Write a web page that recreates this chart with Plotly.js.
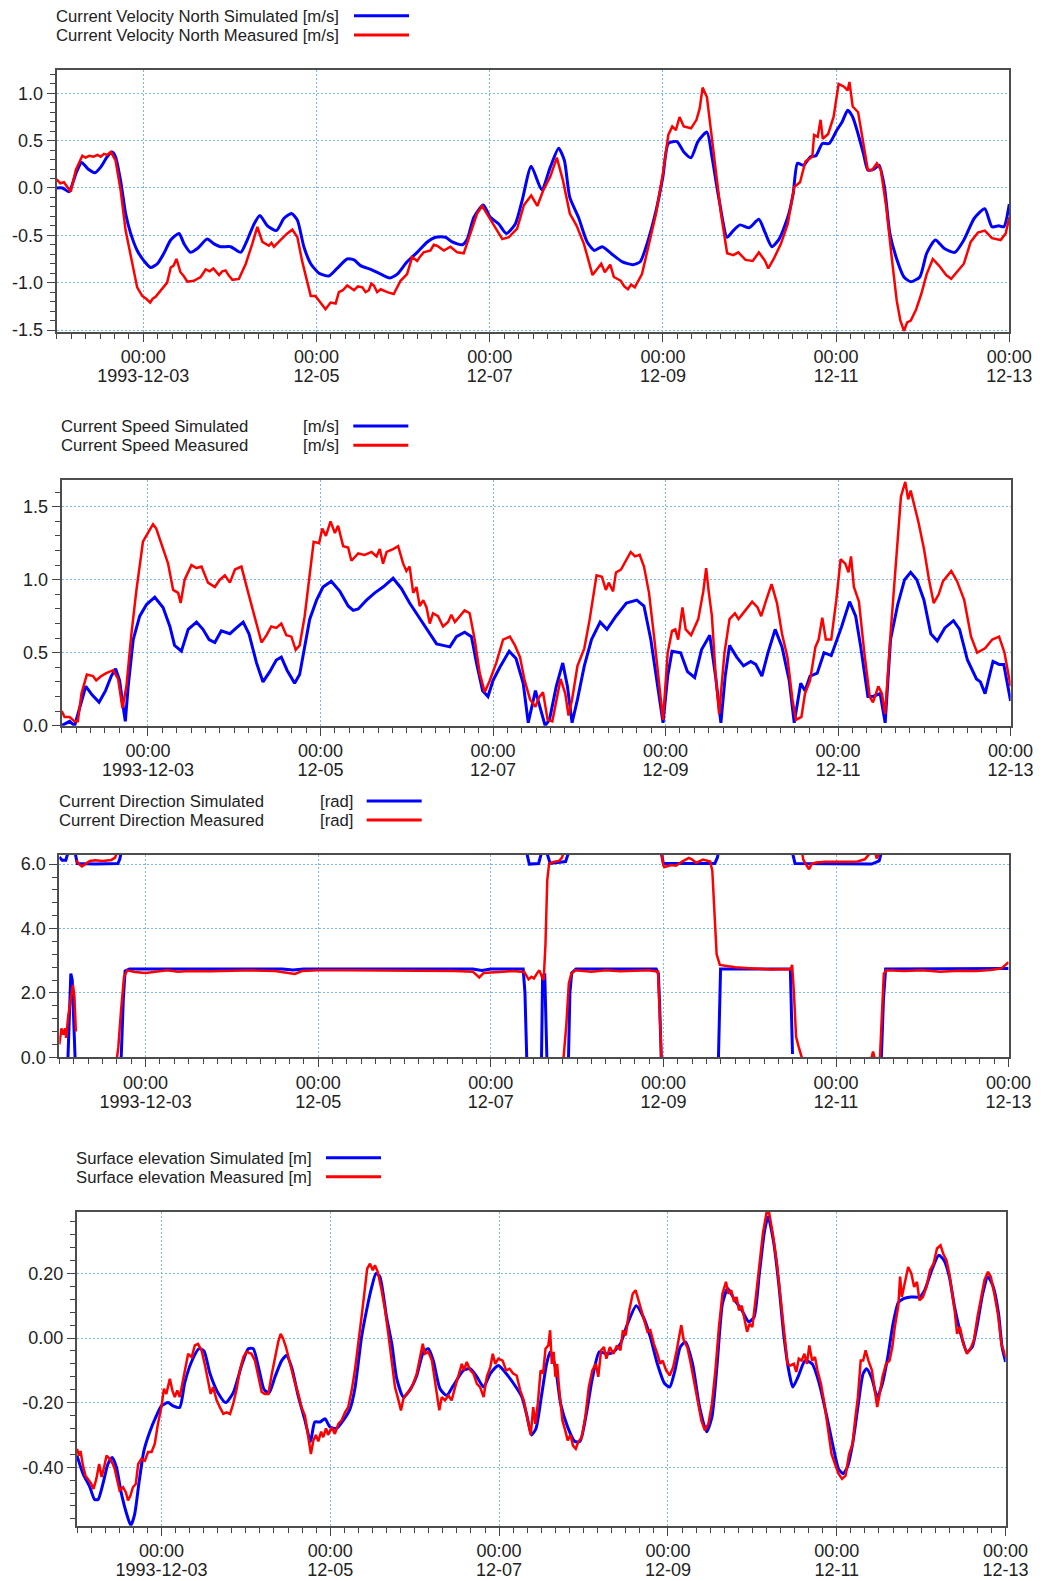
<!DOCTYPE html>
<html>
<head>
<meta charset="utf-8">
<script src="https://cdn.plot.ly/plotly-3.0.1.min.js"></script>
<style>html,body{margin:0;padding:0;background:#fff;}#chart{width:1051px;height:1581px;}</style>
</head>
<body>
<div id="chart"></div>
<script>
// ---- DATA: [hours since 1993-12-02 00:00, value]; null = line break ----
const velSim = [[0,0],[1.6,0],[3.4,-0.04],[5.3,0.15],[6.9,0.27],[8.7,0.2],[10.6,0.16],[12.2,0.22],[14,0.33],[15.4,0.38],[16.3,0.33],[17.7,0.08],[19.1,-0.27],[20.5,-0.48],[22.3,-0.66],[24.2,-0.77],[26,-0.84],[27.9,-0.8],[29.7,-0.69],[31.6,-0.55],[33.9,-0.48],[35.3,-0.59],[37.1,-0.68],[39,-0.64],[41.7,-0.54],[43.6,-0.59],[45.4,-0.62],[48.2,-0.62],[51,-0.68],[52.8,-0.55],[54.7,-0.38],[56.3,-0.29],[58.4,-0.4],[60.9,-0.45],[63,-0.32],[65.1,-0.27],[66.7,-0.34],[68.5,-0.62],[70.4,-0.8],[72.7,-0.9],[75.4,-0.93],[77.7,-0.85],[80.5,-0.75],[82.4,-0.76],[84.2,-0.82],[87,-0.86],[89.8,-0.91],[92.3,-0.95],[94.4,-0.91],[97.1,-0.78],[99.9,-0.68],[102.7,-0.57],[105,-0.52],[107.8,-0.52],[109.6,-0.57],[112.4,-0.6],[113.8,-0.54],[115.6,-0.31],[118.2,-0.18],[120.2,-0.31],[122.5,-0.38],[124.6,-0.48],[127.1,-0.38],[129,-0.13],[131.5,0.23],[134.4,-0.02],[136.8,0.22],[139.1,0.42],[140.7,0.29],[142.2,-0.1],[144.6,-0.31],[147,-0.57],[149,-0.66],[151.2,-0.62],[153.9,-0.7],[156.8,-0.78],[159.7,-0.81],[161.7,-0.78],[163.6,-0.59],[166.1,-0.24],[168,0.12],[169.5,0.47],[171.9,0.49],[173.8,0.38],[175.8,0.32],[177.7,0.49],[180.2,0.59],[181.6,0.33],[183.6,-0.13],[185.8,-0.52],[187.5,-0.45],[189.4,-0.39],[191.9,-0.42],[194.6,-0.33],[196.3,-0.47],[198.2,-0.62],[200.2,-0.54],[202.6,-0.31],[204.1,-0.06],[205.3,0.26],[207,0.24],[208.9,0.33],[210.4,0.34],[212.2,0.47],[214.1,0.47],[216.2,0.61],[217.7,0.7],[219.2,0.82],[220.6,0.75],[222.1,0.57],[223.6,0.36],[224.8,0.19],[226.5,0.2],[227.9,0.24],[229.4,0.01],[230.9,-0.48],[232.8,-0.75],[234.8,-0.94],[236.7,-0.99],[239.2,-0.94],[241.1,-0.69],[243.5,-0.55],[246,-0.64],[248.9,-0.68],[251.4,-0.55],[254.3,-0.32],[257.2,-0.22],[259.2,-0.41],[261.1,-0.4],[262.5,-0.41],[264,-0.17]];

const velMeas = [[0,0.09],[1,0.05],[2,0.06],[3,0.01],[3.9,-0.04],[5.3,0.19],[7.1,0.34],[8,0.32],[9,0.34],[10.2,0.33],[11.3,0.35],[12.2,0.33],[13.1,0.36],[14,0.35],[15,0.38],[16.3,0.29],[17.7,-0.02],[19.1,-0.45],[20.5,-0.73],[22.3,-1.05],[23.7,-1.14],[24.8,-1.17],[25.9,-1.21],[26.6,-1.17],[27.4,-1.15],[28.5,-1.1],[29.7,-1.05],[30.6,-1.0],[31.6,-0.84],[32.4,-0.82],[33.2,-0.75],[34.3,-0.89],[35.2,-0.93],[36.2,-0.99],[38,-0.98],[39.9,-0.94],[41.3,-0.86],[42.4,-0.88],[43.4,-0.85],[45,-0.92],[45.9,-0.88],[46.8,-0.87],[47.6,-0.92],[48.7,-0.97],[50.5,-0.96],[52.4,-0.8],[54.2,-0.59],[55.6,-0.41],[57,-0.57],[58.8,-0.61],[59.5,-0.58],[60.2,-0.62],[62,-0.55],[63.9,-0.48],[65.3,-0.44],[66.7,-0.52],[68,-0.77],[69.4,-0.98],[70.4,-1.14],[71.7,-1.14],[73.1,-1.21],[74.5,-1.28],[75.9,-1.21],[77.3,-1.22],[78.2,-1.1],[79.3,-1.08],[80.5,-1.03],[82.4,-1.08],[83.5,-1.04],[84.7,-1.05],[85.6,-1.1],[86.5,-1.08],[87.2,-1.01],[87.9,-1.03],[88.8,-1.1],[89.8,-1.07],[91.6,-1.1],[93.4,-1.12],[95.3,-0.98],[97.1,-0.91],[98.5,-0.73],[99.9,-0.77],[100.8,-0.72],[101.7,-0.68],[103.6,-0.66],[104.5,-0.6],[105.4,-0.61],[107.3,-0.66],[109.1,-0.62],[111,-0.68],[112.8,-0.69],[114.7,-0.48],[116.5,-0.27],[117.9,-0.19],[119.8,-0.31],[121.6,-0.41],[123.5,-0.54],[125.3,-0.52],[127.6,-0.43],[129.5,-0.18],[131.5,-0.08],[133.2,-0.19],[134.9,-0.02],[136.8,0.12],[138.6,0.32],[140.3,0.08],[142.2,-0.27],[144.1,-0.4],[146.1,-0.59],[148.5,-0.92],[150.9,-0.8],[151.9,-0.89],[153.4,-0.81],[154.4,-0.94],[156.3,-0.98],[157.3,-1.04],[158.3,-1.07],[159.2,-1.02],[160.2,-1.05],[162.2,-0.91],[164.1,-0.59],[166.1,-0.27],[168,0.15],[169.5,0.56],[170.6,0.65],[171.6,0.61],[172.6,0.75],[173.8,0.65],[175.8,0.63],[177.3,0.72],[178.2,0.84],[179,1.06],[180.2,0.96],[181.2,0.65],[182.6,0.22],[184.1,-0.27],[185.8,-0.69],[187.5,-0.71],[188.9,-0.68],[190.9,-0.76],[192.9,-0.77],[194.6,-0.68],[196.3,-0.77],[197.2,-0.85],[198.7,-0.75],[200.7,-0.59],[202.6,-0.38],[204.4,0.01],[206,0.06],[207.5,0.28],[209.4,0.33],[209.9,0.56],[210.9,0.54],[211.7,0.72],[212.3,0.52],[213.8,0.57],[215.3,0.75],[216.7,1.1],[218.2,1.07],[219.2,1.03],[219.7,1.12],[220.6,0.86],[222.1,0.8],[223.6,0.47],[224.8,0.19],[226,0.19],[227.3,0.26],[228.4,0.19],[229.9,-0.2],[231.4,-0.73],[232.8,-1.19],[233.8,-1.4],[234.8,-1.51],[235.7,-1.42],[236.7,-1.4],[238.2,-1.28],[239.6,-1.12],[241.1,-0.91],[242.8,-0.75],[244.5,-0.82],[246.5,-0.92],[247.9,-0.96],[249.4,-0.89],[251.4,-0.8],[253.3,-0.57],[255.3,-0.47],[257.2,-0.45],[259.2,-0.53],[261.6,-0.55],[263,-0.48],[264,-0.31]];

const speedSim = [[0,0],[1.3,0.02],[2.2,0.03],[3.6,0],[5,0.13],[6.7,0.27],[8.5,0.21],[10.4,0.16],[12.2,0.24],[13.8,0.34],[15,0.39],[16.1,0.31],[17.1,0.13],[17.7,0.03],[18.5,0.27],[19.9,0.59],[21.7,0.75],[23.6,0.83],[25.9,0.88],[28.2,0.81],[30.1,0.68],[31.4,0.55],[33.3,0.51],[35.2,0.66],[37.5,0.71],[39.3,0.66],[41,0.59],[42.6,0.57],[44.4,0.65],[46.8,0.63],[48.6,0.67],[50.5,0.71],[52.1,0.63],[54.2,0.43],[56,0.3],[57.9,0.37],[59.7,0.45],[61.1,0.47],[62.7,0.38],[64.8,0.29],[66.2,0.35],[67.6,0.54],[69,0.73],[70.9,0.86],[72.7,0.95],[75,0.99],[77.4,0.92],[79.7,0.82],[81.1,0.79],[82.5,0.8],[84.8,0.86],[87.1,0.91],[89.4,0.95],[92.2,1.01],[94.5,0.94],[96.8,0.84],[99.2,0.75],[101.5,0.66],[104.3,0.56],[106.1,0.55],[108,0.54],[109.8,0.61],[112.1,0.64],[114,0.61],[115.4,0.43],[117.1,0.24],[118.6,0.2],[120,0.31],[121.9,0.4],[124.5,0.51],[126.4,0.46],[128.4,0.29],[129.8,0.02],[131.8,0.24],[133.2,0.11],[134.5,0],[135.7,0.04],[137.6,0.27],[139.4,0.43],[140.7,0.27],[142,0.02],[143.5,0.18],[145.4,0.41],[147.4,0.59],[149.8,0.71],[151.7,0.66],[154.2,0.75],[157.1,0.84],[160,0.86],[162,0.82],[163.9,0.59],[165.9,0.27],[167.3,0.02],[168.6,0.34],[169.8,0.51],[172.2,0.5],[174.1,0.37],[176.1,0.33],[178,0.52],[180.3,0.62],[181.9,0.34],[183.4,0.02],[184.6,0.34],[185.8,0.55],[187.8,0.47],[189.7,0.41],[191.7,0.44],[193.1,0.42],[194.8,0.34],[196.5,0.5],[198.5,0.66],[200.4,0.54],[202.4,0.31],[203.8,0.02],[205.6,0.29],[206.8,0.24],[208.2,0.34],[210.2,0.36],[212.1,0.5],[214.1,0.48],[217,0.68],[219.2,0.85],[220.9,0.75],[222.3,0.54],[224.3,0.2],[225.7,0.2],[227.7,0.22],[229.1,0.02],[230.6,0.59],[232.6,0.83],[234.5,1],[236.2,1.05],[237.9,1],[239.9,0.86],[241.8,0.63],[243.6,0.58],[245.7,0.67],[248.1,0.72],[249.8,0.66],[252,0.45],[254.5,0.32],[255.6,0.3],[256.9,0.22],[259.1,0.44],[260.8,0.42],[262.1,0.42],[264,0.17]];

const speedMeas = [[0,0.1],[0.8,0.06],[2.2,0.06],[3.6,0.03],[4.5,0.03],[5.5,0.22],[7,0.35],[8.7,0.34],[9.6,0.31],[11,0.34],[12.4,0.36],[14.3,0.38],[15.7,0.32],[16.9,0.12],[18,0.27],[19.4,0.63],[20.8,0.93],[22.6,1.26],[24,1.32],[25.4,1.38],[26.3,1.35],[28.2,1.21],[29.6,1.11],[31,0.93],[32.4,0.91],[33.1,0.84],[34.2,1],[36.1,1.1],[37.5,1.08],[38.9,1.09],[40.7,0.98],[42.6,0.95],[44,1],[45.4,1.03],[46.8,0.98],[48.2,1.07],[50,1.09],[51.9,0.91],[53.7,0.75],[55.6,0.57],[57,0.62],[58.3,0.68],[59.7,0.67],[61.1,0.7],[62.5,0.62],[63.9,0.61],[65.1,0.52],[66.2,0.55],[67.6,0.75],[69,1.02],[70.1,1.26],[71.6,1.25],[72.5,1.35],[73.5,1.3],[74.8,1.4],[76,1.32],[76.9,1.37],[78.3,1.23],[79.7,1.22],[80.6,1.13],[82.5,1.18],[84.3,1.17],[86.2,1.19],[87.6,1.16],[88.5,1.21],[89.4,1.11],[90.4,1.19],[92.2,1.21],[93.6,1.23],[95,1.11],[95.9,1.06],[96.8,1.09],[97.8,0.91],[98.7,0.95],[99.6,0.82],[100.6,0.86],[101.5,0.81],[102.4,0.7],[103.3,0.77],[104.7,0.75],[106.1,0.68],[107.5,0.71],[108.4,0.76],[109.4,0.71],[110.8,0.75],[112.1,0.79],[113.5,0.77],[114.9,0.59],[116.3,0.36],[117.7,0.23],[119.1,0.31],[120.9,0.43],[122.8,0.59],[124.7,0.61],[126.1,0.55],[127.5,0.47],[128.8,0.31],[130.3,0.18],[131.8,0.13],[132.7,0.19],[133.9,0.23],[135.2,0.04],[136.5,0.03],[137.6,0.18],[138.8,0.32],[140.1,0.22],[141,0.07],[142,0.18],[143.5,0.41],[145.4,0.53],[146.9,0.73],[148.8,1.03],[150.3,1.02],[151.4,0.93],[152.2,0.98],[153.4,0.92],[154.2,1.05],[155.6,1.07],[157.1,1.14],[158.3,1.19],[159.5,1.16],[160.8,1.17],[162,1.09],[163.4,0.91],[164.9,0.59],[166.3,0.27],[167.3,0.04],[168.6,0.5],[169.8,0.65],[170.7,0.66],[171.5,0.59],[172.7,0.81],[173.6,0.66],[175.1,0.62],[177.1,0.73],[178.5,0.92],[179.3,1.08],[180,0.92],[180.9,0.75],[181.9,0.36],[182.9,0.08],[184.4,0.5],[185.8,0.73],[187.3,0.77],[188.3,0.73],[190.2,0.79],[192.1,0.85],[193.6,0.81],[194.6,0.75],[196,0.86],[197.5,0.97],[199,0.84],[200.4,0.63],[201.9,0.47],[203.3,0.18],[204.3,0.04],[205.8,0.06],[206.8,0.22],[208.2,0.31],[209.7,0.54],[210.6,0.59],[211.6,0.74],[212.6,0.59],[214.1,0.59],[215.5,0.86],[216.7,1.14],[218,1.11],[218.9,1.05],[219.6,1.16],[220.4,0.95],[221.8,0.85],[223.3,0.5],[224.8,0.2],[225.7,0.16],[227.2,0.27],[228.2,0.22],[229.1,0.08],[230.6,0.63],[232.1,1.09],[233.5,1.57],[234.7,1.67],[235.5,1.55],[236.2,1.61],[237.4,1.5],[238.4,1.39],[239.9,1.21],[241.3,1],[242.6,0.84],[244,0.9],[245.2,0.99],[247.5,1.06],[249.1,0.99],[251.1,0.86],[253,0.61],[254.7,0.5],[256.9,0.53],[258.9,0.59],[260.8,0.61],[262.3,0.5],[264,0.27]];

const dirSim = [[0,6.22],[0.8,6.12],[1.8,6.12],[2.4,6.35],null,[2.4,-0.05],[2.8,1.5],[3.2,2.6],[3.6,2.4],[4.0,1.0],[4.4,-0.05],null,[4.4,6.35],[5.0,6.02],[10,6.0],[16.3,6.02],[16.8,6.15],[17.2,6.35],null,[17.2,-0.05],[17.8,1.8],[18.3,2.68],[19.5,2.74],[40,2.74],[62,2.74],[65,2.71],[68,2.74],[100,2.74],[115,2.74],[117.5,2.70],[120,2.74],[129.0,2.74],[129.5,2.0],[130.0,-0.05],null,[130.0,6.35],[130.7,6.0],[133.3,6.02],[134.1,6.35],null,[134.1,-0.05],[134.4,2.5],[135.0,2.6],[135.3,1.0],[135.6,-0.05],null,[135.6,6.35],[136.5,6.02],[140.8,6.08],[141.6,6.35],null,[141.6,-0.05],[142.0,2.0],[142.5,2.62],[143.7,2.74],[166.0,2.74],[166.6,2.6],[167.0,1.5],[167.4,-0.05],null,[167.4,6.35],[168,6.02],[182.3,6.02],[183.0,6.2],[183.3,6.35],null,[183.3,-0.05],[183.6,1.5],[183.9,2.74],[203.3,2.74],[203.9,0.1],null,[203.9,6.35],[204.6,6.02],[225.9,6.0],[227,6.05],[228,6.1],[228.6,6.35],null,[228.6,-0.05],[229.2,1.8],[229.8,2.74],[264,2.76]];

const dirMeas = [[0,0.40],[0.6,0.9],[1.1,0.7],[1.6,0.9],[1.9,0.6],[2.5,1.3],[3.3,1.9],[3.8,2.25],[4.2,1.9],[4.6,0.8],null,[4.6,6.12],[5.5,6.0],[6.3,5.93],[7.5,6.02],[8.5,6.1],[10,6.12],[12,6.1],[14.5,6.13],[15.5,6.2],[16.0,6.35],null,[16.0,-0.05],[16.4,0.3],[17.2,1.5],[18.0,2.5],[18.9,2.7],[21,2.65],[24,2.62],[27,2.66],[30,2.70],[33,2.66],[36,2.68],[42,2.67],[48,2.68],[54,2.70],[60,2.68],[63,2.64],[65.5,2.59],[67.5,2.68],[72,2.70],[80,2.70],[90,2.69],[100,2.70],[110,2.68],[115,2.66],[116.8,2.48],[118,2.62],[122,2.66],[126,2.68],[129.3,2.65],[130.0,2.5],[130.5,2.42],[131.3,2.5],[132.0,2.45],[132.8,2.6],[133.5,2.7],[134.2,2.5],[134.7,2.4],[135.2,3.5],[135.7,5.5],[136.2,6.0],[137,6.05],[138,6.08],[139,6.1],[139.8,6.2],[140.2,6.35],null,[140.2,-0.05],[141.0,1.0],[141.7,2.3],[142.4,2.6],[143.5,2.7],[148,2.66],[152,2.70],[156,2.67],[160,2.69],[164,2.70],[166.5,2.66],[167.0,1.5],[167.5,-0.05],null,[167.5,6.35],[168.0,5.95],[168.3,5.91],[170.2,5.97],[171.5,5.95],[173.2,6.08],[175.1,6.19],[176,6.14],[177.1,6.04],[179,6.14],[181,6.08],[181.6,5.8],[182.2,4.5],[182.8,3.2],[183.7,2.87],[188,2.80],[193,2.76],[198,2.73],[203.4,2.74],[203.8,2.87],[204.3,2.0],[204.9,0.64],[205.6,0.33],[206.6,-0.05],null,[206.6,6.35],[206.9,6.14],[207.6,6.0],[208.5,5.84],[209.2,6.0],[210.5,6.05],[213,6.07],[216,6.06],[219,6.07],[222,6.08],[224,6.15],[225,6.28],[225.8,6.35],null,[225.8,-0.05],[226.3,0.18],[226.8,-0.05],null,[226.9,6.35],[227.3,6.18],[227.7,6.26],[228.2,6.35],null,[228.2,-0.05],[228.8,1.5],[229.3,2.6],[230,2.7],[235,2.68],[240,2.70],[245,2.66],[250,2.69],[255,2.68],[259,2.71],[262,2.76],[264,2.95]];

const elevSim = [[0,-0.364],[1.7,-0.42],[3.6,-0.46],[5,-0.5],[6,-0.5],[7.4,-0.45],[8.8,-0.39],[10,-0.37],[11.2,-0.4],[12.6,-0.48],[14,-0.54],[15.3,-0.58],[16.4,-0.545],[17.6,-0.45],[19,-0.35],[20.7,-0.29],[22.4,-0.245],[24,-0.21],[25.9,-0.2],[27.3,-0.21],[29.2,-0.215],[30.6,-0.14],[32.5,-0.075],[34.7,-0.033],[36.1,-0.04],[37.8,-0.11],[40.1,-0.17],[42.3,-0.2],[44.4,-0.17],[46.8,-0.085],[48.7,-0.033],[50.1,-0.033],[51.8,-0.1],[53.2,-0.16],[54.6,-0.17],[56.3,-0.12],[58.2,-0.07],[59.6,-0.054],[61,-0.09],[62.9,-0.18],[64.8,-0.255],[66.4,-0.32],[67.6,-0.26],[69.1,-0.26],[70.5,-0.25],[71.9,-0.275],[73.8,-0.28],[75.7,-0.255],[77.6,-0.22],[79,-0.157],[80.9,0.003],[82.4,0.09],[83.8,0.158],[85,0.2],[86.1,0.19],[88,0.065],[89.5,-0.018],[90.9,-0.126],[92.8,-0.183],[94.7,-0.16],[96.6,-0.116],[98.5,-0.043],[99.9,-0.033],[101.3,-0.07],[103.2,-0.157],[105.1,-0.178],[107,-0.147],[109.9,-0.1],[111.8,-0.095],[113.7,-0.12],[115.6,-0.152],[117.5,-0.11],[119.8,-0.085],[122,-0.11],[124.5,-0.147],[126.5,-0.183],[128,-0.245],[129.2,-0.3],[130.5,-0.28],[132,-0.183],[133.5,-0.08],[134.5,-0.043],[136,-0.09],[137.5,-0.204],[139.5,-0.276],[141.5,-0.32],[143,-0.32],[144.8,-0.235],[146.5,-0.126],[148.5,-0.043],[150.5,-0.049],[152.5,-0.043],[154.5,-0.018],[156.5,0.044],[159,0.1],[161,0.065],[163,0.003],[165,-0.08],[167,-0.14],[168.5,-0.152],[170,-0.1],[171.5,-0.028],[173,-0.012],[175,-0.08],[177,-0.214],[179,-0.29],[180.5,-0.245],[182,-0.08],[183.5,0.106],[185,0.153],[187,0.117],[189,0.086],[191,0.05],[192.5,0.065],[194,0.2],[195.5,0.334],[196.5,0.375],[198,0.3],[199.5,0.168],[201,0.003],[202.5,-0.11],[203.5,-0.152],[205,-0.12],[207,-0.07],[209,-0.08],[211,-0.14],[213,-0.235],[215,-0.338],[216.5,-0.405],[217.8,-0.42],[219,-0.4],[220.5,-0.328],[222,-0.214],[223.5,-0.11],[224.5,-0.095],[226,-0.126],[227.5,-0.183],[229,-0.14],[230.5,-0.059],[232,0.044],[233.5,0.11],[235,0.122],[237,0.127],[239.5,0.127],[241,0.148],[243,0.21],[245,0.256],[246.5,0.24],[248,0.19],[249.5,0.096],[251.5,0.003],[253,-0.043],[254.5,-0.028],[256,0.044],[257.5,0.137],[259,0.19],[260.5,0.158],[262,0.075],[263,-0.028],[264,-0.074]];

const elevMeas = [[0,-0.343],[0.6,-0.364],[1,-0.35],[1.7,-0.395],[2.4,-0.426],[3.1,-0.436],[4,-0.45],[4.7,-0.467],[5.5,-0.436],[6.3,-0.39],[7,-0.43],[7.7,-0.4],[8.4,-0.364],[9.3,-0.374],[10.2,-0.39],[10.7,-0.405],[11.4,-0.44],[12.1,-0.472],[13.1,-0.462],[13.9,-0.478],[14.5,-0.503],[15.2,-0.488],[15.9,-0.462],[16.7,-0.452],[17.4,-0.39],[18.3,-0.374],[19.3,-0.38],[20.2,-0.353],[21.2,-0.353],[22.1,-0.328],[23,-0.266],[24,-0.214],[24.7,-0.157],[25.4,-0.173],[26.4,-0.126],[27.1,-0.162],[27.8,-0.183],[28.5,-0.162],[29.2,-0.183],[30,-0.142],[30.9,-0.085],[31.6,-0.049],[32.6,-0.059],[33.5,-0.023],[34.4,-0.018],[35.4,-0.038],[36.3,-0.08],[37.3,-0.142],[38,-0.173],[38.7,-0.152],[39.7,-0.193],[40.6,-0.214],[41.6,-0.235],[42.5,-0.23],[43.5,-0.235],[44.4,-0.204],[45.4,-0.157],[46.3,-0.1],[47.3,-0.059],[48.2,-0.043],[49.6,-0.049],[50.6,-0.07],[51.5,-0.12],[52.5,-0.167],[53.4,-0.173],[54.4,-0.173],[55.3,-0.116],[56.3,-0.059],[57.2,-0.012],[57.9,0.013],[58.6,-0.002],[59.4,-0.028],[60.1,-0.059],[61,-0.09],[61.9,-0.136],[62.9,-0.173],[63.8,-0.214],[64.8,-0.24],[65.5,-0.286],[66,-0.328],[66.5,-0.359],[67.2,-0.317],[67.9,-0.3],[68.6,-0.32],[69.4,-0.29],[70,-0.307],[70.8,-0.28],[71.4,-0.3],[72.4,-0.276],[73.3,-0.297],[74.3,-0.266],[75.2,-0.255],[76.2,-0.23],[77.1,-0.214],[78.1,-0.162],[79,-0.1],[80,-0.018],[80.9,0.065],[81.9,0.158],[82.5,0.215],[83.3,0.23],[84.1,0.21],[84.7,0.225],[85.5,0.205],[86.6,0.148],[87.6,0.086],[88.5,0.013],[89.5,-0.07],[90.4,-0.152],[91.4,-0.193],[92.1,-0.224],[92.8,-0.188],[93.7,-0.173],[94.7,-0.162],[95.6,-0.142],[96.6,-0.11],[97.5,-0.059],[98.3,-0.018],[98.9,-0.049],[99.9,-0.043],[100.9,-0.07],[101.6,-0.12],[102.3,-0.173],[103,-0.224],[103.7,-0.183],[104.6,-0.193],[105.6,-0.178],[106.5,-0.193],[107.5,-0.152],[108.4,-0.12],[109.4,-0.08],[110,-0.1],[110.8,-0.074],[111.8,-0.1],[112.7,-0.11],[113.7,-0.142],[114.6,-0.152],[115.6,-0.183],[116.5,-0.12],[117.5,-0.09],[118.2,-0.049],[118.9,-0.08],[119.8,-0.064],[121,-0.07],[122,-0.1],[123,-0.095],[124,-0.11],[125,-0.116],[126,-0.162],[127,-0.193],[128,-0.245],[129,-0.3],[129.7,-0.214],[130.3,-0.266],[131,-0.204],[131.8,-0.1],[132.5,-0.11],[133.2,-0.033],[134,-0.023],[134.5,0.024],[135,-0.08],[135.5,-0.043],[136,-0.12],[136.5,-0.08],[137.2,-0.173],[138,-0.255],[138.8,-0.286],[139.5,-0.317],[140.3,-0.3],[141,-0.333],[141.8,-0.343],[142.5,-0.322],[143.5,-0.307],[144.5,-0.245],[145.5,-0.152],[146.5,-0.1],[147.5,-0.08],[148.2,-0.12],[149,-0.038],[149.8,-0.028],[150.5,-0.064],[151.5,-0.028],[152.5,-0.049],[153.5,-0.023],[154.5,-0.038],[155.2,0.024],[156,0.008],[157,0.086],[158,0.137],[158.8,0.148],[159.5,0.122],[160.5,0.086],[161.5,0.044],[162.2,0.019],[163,0.024],[164,-0.018],[165,-0.049],[165.8,-0.08],[166.5,-0.07],[167.5,-0.1],[168.5,-0.116],[169.5,-0.09],[170.5,-0.038],[171.2,0.003],[171.8,0.04],[172.5,-0.007],[173.5,-0.028],[174.5,-0.08],[175.5,-0.142],[176.5,-0.193],[177.5,-0.255],[178.5,-0.286],[179.5,-0.266],[180.5,-0.204],[181.5,-0.1],[182.5,0.034],[183.5,0.137],[184.5,0.174],[185.2,0.137],[186,0.148],[186.8,0.112],[187.5,0.127],[188.2,0.086],[189,0.1],[189.8,0.055],[190.5,0.019],[191.2,0.044],[192,0.034],[193,0.127],[194,0.22],[195,0.324],[196,0.386],[196.8,0.386],[197.8,0.324],[199,0.23],[200,0.127],[201,0.013],[202,-0.08],[202.8,-0.085],[203.8,-0.08],[204.5,-0.105],[205.2,-0.064],[206,-0.07],[206.8,-0.049],[207.5,-0.08],[208.2,-0.023],[209,-0.07],[209.8,-0.059],[210.5,-0.1],[211.5,-0.142],[212.5,-0.204],[213.5,-0.286],[214.5,-0.359],[215.5,-0.39],[216.5,-0.42],[217.5,-0.436],[218.5,-0.426],[219.5,-0.359],[220.5,-0.328],[221.2,-0.255],[222,-0.183],[222.8,-0.07],[223.5,-0.07],[224.2,-0.038],[225,-0.07],[226,-0.1],[226.8,-0.162],[227.5,-0.214],[228.2,-0.173],[229,-0.12],[230,-0.08],[231,-0.07],[231.8,-0.028],[232.5,0.034],[233.5,0.1],[234,0.19],[234.5,0.127],[235.5,0.18],[236.3,0.22],[237.2,0.2],[238,0.158],[238.8,0.174],[239.5,0.117],[240.5,0.127],[241.5,0.158],[242.5,0.21],[243.5,0.23],[244.5,0.277],[245.5,0.287],[246.3,0.26],[247.2,0.24],[248,0.2],[248.8,0.137],[249.5,0.086],[250.2,0.013],[251,0.034],[252,-0.018],[253,-0.049],[254,-0.033],[255,-0.007],[256,0.065],[257,0.117],[258,0.18],[259,0.205],[259.8,0.19],[260.8,0.137],[261.8,0.075],[262.8,-0.018],[264,-0.059]];

// ---- TICKS / LABELS ----
const xTickVals = ['1993-12-03','1993-12-05','1993-12-07','1993-12-09','1993-12-11','1993-12-13'];
const xTimeText = ['00:00','00:00','00:00','00:00','00:00','00:00'];
const xDateText = ['1993-12-03','12-05','12-07','12-09','12-11','12-13'];
const y1TickVals = [-1.5,-1,-0.5,0,0.5,1];
const y1TickText = ['-1.5','-1.0','-0.5','0.0','0.5','1.0'];
const y2TickVals = [0,0.5,1,1.5];
const y2TickText = ['0.0','0.5','1.0','1.5'];
const y3TickVals = [0,2,4,6];
const y3TickText = ['0.0','2.0','4.0','6.0'];
const y4TickVals = [-0.4,-0.2,0,0.2];
const y4TickText = ['-0.40','-0.20','0.00','0.20'];

const legend1 = ['Current Velocity North Simulated [m/s]','Current Velocity North Measured [m/s]'];
const legend2 = ['Current Speed Simulated','Current Speed Measured'];
const legend2Unit = '[m/s]';
const legend3 = ['Current Direction Simulated','Current Direction Measured'];
const legend3Unit = '[rad]';
const legend4 = ['Surface elevation Simulated [m]','Surface elevation Measured [m]'];

// ---- BUILD ----
const W = 1051, H = 1581;
const fx = p => p / W;
const fy = p => 1 - p / H;
const BLUE = '#0000ff', RED = '#ff0000';
const FONT = 'Arial, "Liberation Sans", sans-serif';
const T0 = Date.UTC(1993, 11, 2, 0, 0, 0);
const XRANGE = ['1993-12-02 00:00', '1993-12-13 00:00'];

function toTime(h) {
  return new Date(T0 + h * 3600000).toISOString().replace('T', ' ').replace('Z', '');
}
function series(pairs) {
  const x = [], y = [];
  let last = 0;
  for (const p of pairs) {
    if (p === null) { x.push(toTime(last)); y.push(null); }
    else { x.push(toTime(p[0])); y.push(p[1]); last = p[0]; }
  }
  return { x, y };
}

const panels = [
  { left: 56.7, right: 1009.3, top: 70, bottom: 331.7, yr: [-1.518, 1.246], tv: y1TickVals, tt: y1TickText, minor: 0.1, sim: velSim, meas: velMeas, shape: 'spline' },
  { left: 61.7, right: 1010.6, top: 480, bottom: 725.7, yr: [0, 1.683], tv: y2TickVals, tt: y2TickText, minor: 0.1, sim: speedSim, meas: speedMeas, shape: 'linear' },
  { left: 59.3, right: 1008.6, top: 855, bottom: 1057.3, yr: [0, 6.2832], tv: y3TickVals, tt: y3TickText, minor: 0.4, sim: dirSim, meas: dirMeas, shape: 'linear' },
  { left: 77, right: 1005.6, top: 1211.7, bottom: 1525.7, yr: [-0.581, 0.391], tv: y4TickVals, tt: y4TickText, minor: 0.04, sim: elevSim, meas: elevMeas, shape: 'spline' }
];

const traces = [];
const layout = {
  width: W, height: H,
  margin: { l: 0, r: 0, t: 0, b: 0 },
  paper_bgcolor: '#ffffff', plot_bgcolor: '#ffffff',
  showlegend: false,
  font: { family: FONT, color: '#222222', size: 18 },
  annotations: [], shapes: []
};
const tickFont = { family: FONT, size: 18, color: '#222222' };

panels.forEach((p, i) => {
  const n = i + 1;
  const xa = n === 1 ? 'x' : 'x' + n;
  const ya = n === 1 ? 'y' : 'y' + n;
  const xo = 'x' + (n + 4);
  const s = series(p.sim), m = series(p.meas);
  traces.push({ type: 'scatter', mode: 'lines', x: s.x, y: s.y, xaxis: xa, yaxis: ya, connectgaps: false,
    line: { color: BLUE, width: 3, shape: p.shape, smoothing: 0.6 }, hoverinfo: 'skip' });
  traces.push({ type: 'scatter', mode: 'lines', x: m.x, y: m.y, xaxis: xa, yaxis: ya, connectgaps: false,
    line: { color: RED, width: 2.5 }, hoverinfo: 'skip' });
  // empty trace so the date-label axis exists
  traces.push({ type: 'scatter', mode: 'lines', x: [], y: [], xaxis: xo, yaxis: ya, hoverinfo: 'skip' });

  layout['xaxis' + (n === 1 ? '' : n)] = {
    domain: [fx(p.left), fx(p.right)], anchor: ya, type: 'date', range: XRANGE,
    tickmode: 'array', tickvals: xTickVals, ticktext: xTimeText,
    ticks: 'outside', ticklen: 8, tickwidth: 1, tickcolor: '#444444', tickfont: tickFont,
    showline: true, linecolor: '#4d4d4d', linewidth: 2, mirror: true,
    showgrid: true, gridcolor: '#7ab6f2', griddash: '2px,2px', gridwidth: 1,
    zeroline: false, fixedrange: true,
    minor: { tickmode: 'linear', tick0: '1993-12-02 00:00', dtick: 4 * 3600000, ticks: 'outside', ticklen: 5, tickwidth: 1, tickcolor: '#444444', showgrid: false }
  };
  layout['xaxis' + (n + 4)] = {
    overlaying: xa, anchor: ya, side: 'bottom', type: 'date', range: XRANGE,
    tickmode: 'array', tickvals: xTickVals, ticktext: xDateText,
    ticks: 'outside', ticklen: 8, tickcolor: 'rgba(0,0,0,0)', ticklabelstandoff: 20, tickfont: tickFont,
    showline: false, showgrid: false, zeroline: false, fixedrange: true
  };
  layout['yaxis' + (n === 1 ? '' : n)] = {
    domain: [fy(p.bottom), fy(p.top)], anchor: xa,
    range: p.yr, tickmode: 'array', tickvals: p.tv, ticktext: p.tt,
    ticks: 'outside', ticklen: 8, tickwidth: 1, tickcolor: '#444444', tickfont: tickFont,
    showline: true, linecolor: '#4d4d4d', linewidth: 2, mirror: true,
    showgrid: true, gridcolor: '#7ab6f2', griddash: '2px,2px', gridwidth: 1,
    zeroline: false, fixedrange: true,
    minor: { tickmode: 'linear', tick0: 0, dtick: p.minor, ticks: 'outside', ticklen: 5, tickwidth: 1, tickcolor: '#444444', showgrid: false }
  };
});

// ---- legends drawn as text + line samples ----
const legendSpecs = [
  { labels: legend1, unit: null, tx: 56.7, ux: null, ys: [16.5, 35.5], lx: [354, 409], ly: [15.7, 35] },
  { labels: legend2, unit: legend2Unit, tx: 61.7, ux: 304, ys: [426.7, 445.7], lx: [353.3, 408.3], ly: [426, 445.3] },
  { labels: legend3, unit: legend3Unit, tx: 60, ux: 321, ys: [801.7, 820.7], lx: [366.7, 421.7], ly: [801, 820] },
  { labels: legend4, unit: null, tx: 77.3, ux: null, ys: [1158.3, 1177.3], lx: [326, 381], ly: [1157.7, 1176.7] }
];
legendSpecs.forEach(L => {
  L.labels.forEach((lab, k) => {
    layout.annotations.push({ xref: 'paper', yref: 'paper', x: fx(L.tx - 2), y: fy(L.ys[k]), xanchor: 'left', yanchor: 'middle',
      text: lab, showarrow: false, font: { family: FONT, size: 16.7, color: '#222222' }, borderpad: 0 });
    if (L.unit) {
      layout.annotations.push({ xref: 'paper', yref: 'paper', x: fx(L.ux - 2), y: fy(L.ys[k]), xanchor: 'left', yanchor: 'middle',
        text: L.unit, showarrow: false, font: { family: FONT, size: 16.7, color: '#222222' }, borderpad: 0 });
    }
    layout.shapes.push({ type: 'line', xref: 'paper', yref: 'paper', x0: fx(L.lx[0]), x1: fx(L.lx[1]), y0: fy(L.ly[k]), y1: fy(L.ly[k]),
      line: { color: k === 0 ? BLUE : RED, width: 3 } });
  });
});

Plotly.newPlot('chart', traces, layout, { displayModeBar: false, staticPlot: true });
</script>
</body>
</html>
